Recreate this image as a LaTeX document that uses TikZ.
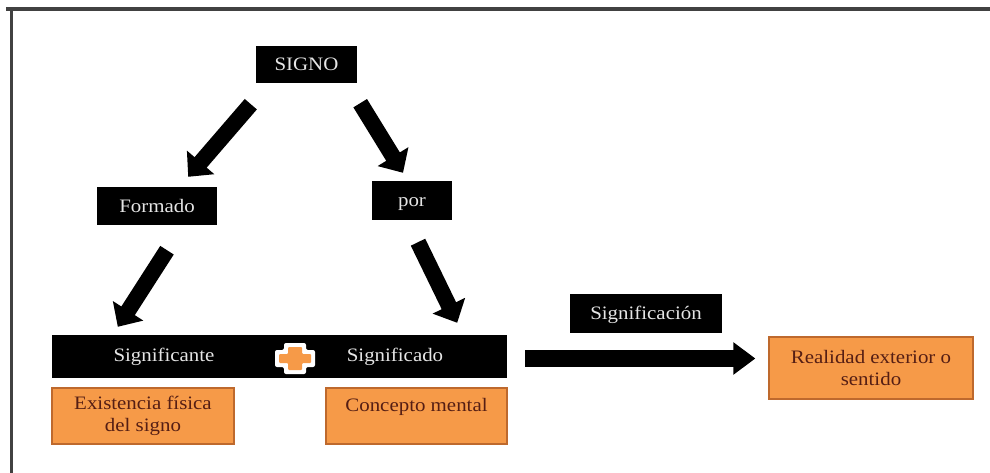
\documentclass[tikz,border=0pt]{standalone}
\usepackage{fontspec}
\setmainfont{Liberation Serif}[FakeStretch=1.1]
\usetikzlibrary{arrows.meta,calc}

\definecolor{boxorange}{RGB}{246,154,72}
\definecolor{boxedge}{RGB}{190,105,45}
\definecolor{boxtext}{RGB}{85,30,20}
\definecolor{framegray}{RGB}{65,65,65}

\tikzset{
    blackbox/.style={fill=black, text=white!90!black, inner sep=0pt,
        text height=13pt, text depth=0.5pt, font=\fontsize{19}{22}\selectfont},
    orangebox/.style={fill=boxorange, draw=boxedge, line width=1.2pt, text=boxtext,
        align=center, inner sep=0pt, font=\fontsize{19}{22}\selectfont},
    fatarrow/.style={line width=16pt, -{Triangle[length=19pt,width=35pt]}},
}

\begin{document}
\begin{tikzpicture}[x=1pt, y=-1pt]
        \useasboundingbox (0,0) rectangle (990,473);
        \fill[white] (0,0) rectangle (990,473);
        % frame
        \draw[framegray, line width=3.5pt] (6,9) -- (990,9);
        \draw[framegray, line width=3pt] (11.5,8) -- (11.5,473);

        \node[blackbox, minimum width=101pt, minimum height=37pt] (signo) at (306.5,64.5) {SIGNO};
        \node[blackbox, minimum width=120pt, minimum height=38pt] (formado) at (157,206) {Formado};
        \node[blackbox, minimum width=80pt, minimum height=39pt] (por) at (412,200.5) {por};

        \node[blackbox, minimum width=455pt, minimum height=43pt] (bar) at (279.5,356.5) {};
        \node[blackbox] (significante) at (164,355) {Significante};
        \node[blackbox] (significado) at (395,355) {Significado};

        % plus sign
        \begin{scope}[shift={(295,358.5)}]
            \fill[white, rounded corners=2pt] (-20,-8.5) -- (-11,-8.5) -- (-11,-15.5) -- (11,-15.5) -- (11,-8.5) -- (20,-8.5)
                -- (20,8.5) -- (11,8.5) -- (11,15.5) -- (-11,15.5) -- (-11,8.5) -- (-20,8.5) -- cycle;
            \fill[boxorange, rounded corners=1pt] (-16,-4.5) -- (-7,-4.5) -- (-7,-11.5) -- (7,-11.5) -- (7,-4.5) -- (16,-4.5)
                -- (16,4.5) -- (7,4.5) -- (7,11.5) -- (-7,11.5) -- (-7,4.5) -- (-16,4.5) -- cycle;
        \end{scope}

        \node[orangebox, minimum width=182pt, minimum height=56pt] (existencia) at (143,416) {Existencia física\\del signo};
        \node[orangebox, minimum width=181pt, minimum height=56pt] (concepto) at (416.5,416) {Concepto mental\\\mbox{}};

        \node[blackbox, minimum width=152pt, minimum height=39pt] (significacion) at (646,313.5) {Significación};
        \node[orangebox, minimum width=204pt, minimum height=62pt] (realidad) at (871,368) {Realidad exterior o\\sentido};

        % arrows
        \draw[fatarrow] ($(signo.south west)+(-5,21)$) -- ($(formado.north east)+(-29,-10)$);
        \draw[fatarrow] ($(signo.south east)+(3,20)$) -- ($(por.north)+(-9,-8)$);
        \draw[fatarrow] ($(formado.south)+(10,25)$) -- ($(bar.north west)+(66,-8)$);
        \draw[fatarrow] ($(por.south)+(6,22)$) -- ($(bar.north east)+(-50,-12)$);
        \draw[line width=17pt, -{Triangle[length=22pt,width=31pt]}] ($(bar.east)+(18,2)$) -- ($(realidad.west)+(-13,-9.5)$);
    \end{tikzpicture}
\end{document}
